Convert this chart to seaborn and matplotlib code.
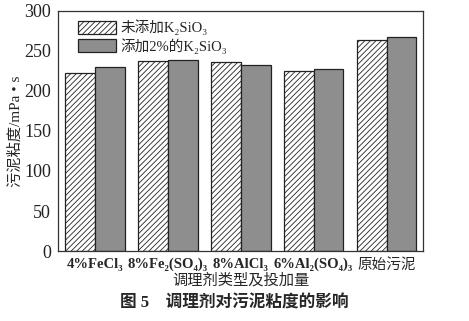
import matplotlib
matplotlib.use("Agg")
import matplotlib.pyplot as plt
import seaborn as sns
import pandas as pd

categories = ["4%FeCl₃", "8%Fe₂(SO₄)₃", "8%AlCl₃", "6%Al₂(SO₄)₃", "原始污泥"]
series_names = ["未添加K₂SiO₃", "添加2%的K₂SiO₃"]
no_k2sio3 = [223, 237, 236, 225, 264]
with_k2sio3 = [229.5, 239, 232, 227.5, 267]
y_ticks = [0, 50, 100, 150, 200, 250, 300]

sns.set_style("white")
plt.rcParams['font.family'] = ['Liberation Serif', 'Noto Sans CJK SC', 'DejaVu Sans']
plt.rcParams['hatch.linewidth'] = 0.6

df = pd.DataFrame({
    "cat": categories * 2,
    "series": [series_names[0]] * len(categories) + [series_names[1]] * len(categories),
    "val": no_k2sio3 + with_k2sio3,
})

fig = plt.figure(figsize=(4.69, 3.21), dpi=100)
ax = fig.add_axes([0.124, 0.218, 0.778, 0.748])
sns.barplot(data=df, x="cat", y="val", hue="series", order=categories,
            hue_order=series_names, palette=["white", "#8e8e8e"],
            width=0.82, edgecolor="#222222", linewidth=0.9, ax=ax, legend=False)
for p in ax.containers[0]:
    p.set_hatch("//////")

ax.set_ylim(0, 300)
ax.set_xlim(-0.5, 4.5)
ax.set_yticks(y_ticks)
ax.tick_params(axis='y', which='major', direction='out', length=3, width=0.8, labelsize=13, pad=2, colors='#222222')
ax.tick_params(axis='x', length=0, labelsize=10.5, pad=5)
for lab in ax.get_xticklabels()[:4]:
    lab.set_fontweight('bold')
for s in ax.spines.values():
    s.set_color('#333333')
    s.set_linewidth(0.9)
ax.set_xlabel("调理剂类型及投加量", fontsize=11, labelpad=1)
ax.set_ylabel("污泥粘度/mPa • s", fontsize=11, labelpad=1)

leg = ax.legend(handles=ax.containers, labels=series_names, loc='upper left',
                bbox_to_anchor=(0.03, 1.0), frameon=False, fontsize=10.5,
                handlelength=2.6, handleheight=1.0, labelspacing=0.2,
                borderaxespad=0.2, handletextpad=0.3)

fig.text(0.5, 0.055, "图 5    调理剂对污泥粘度的影响", ha='center', va='center',
         fontsize=12, fontweight='bold')

fig.savefig("out.png", dpi=100)
